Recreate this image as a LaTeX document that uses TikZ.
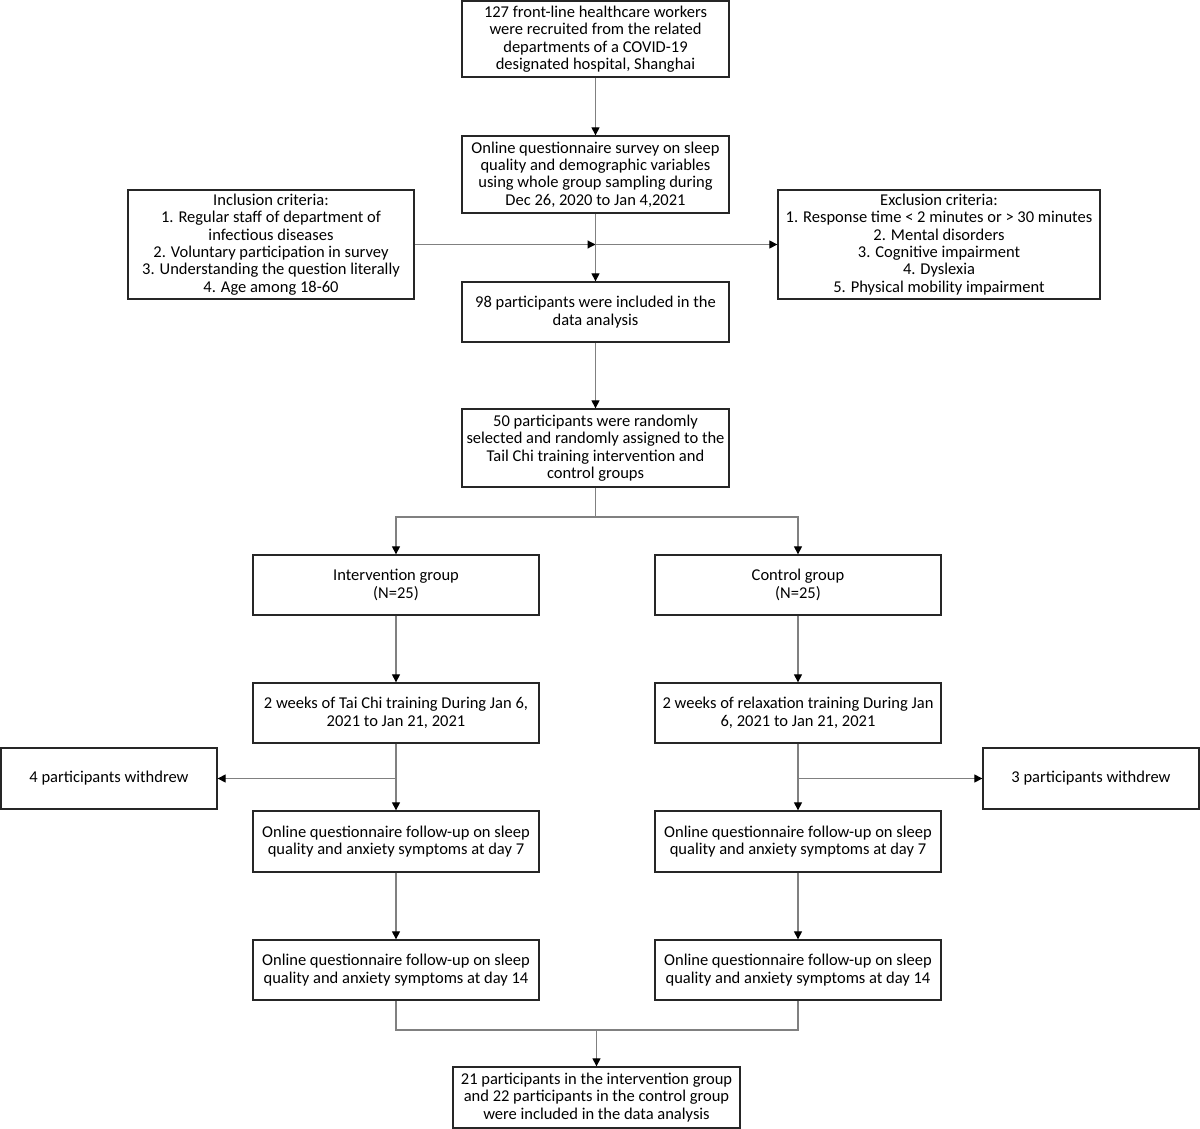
\documentclass[tikz,border=0pt]{standalone}
\usepackage{fontspec}
\setmainfont{Carlito}
\usetikzlibrary{arrows.meta}
\begin{document}
\begin{tikzpicture}[x=1pt,y=-1pt,
  box/.style={draw=black!85,line width=1.3pt,fill=white,align=center,inner sep=0pt,
    font=\fontsize{16.5pt}{17.4pt}\selectfont},
  conn/.style={draw=black!50,line width=1.1pt},
  arr/.style={conn,-{Triangle[black,length=8pt,width=8pt]}}]
\useasboundingbox (0,0) rectangle (1200,1129);
\node[box,minimum width=267pt,minimum height=76pt] (b1) at (595.5,39) {127 front-line healthcare workers\\were recruited from the related\\departments of a COVID-19\\designated hospital, Shanghai};
\node[box,minimum width=267pt,minimum height=77pt] (b2) at (595.5,174.5) {Online questionnaire survey on sleep\\quality and demographic variables\\using whole group sampling during\\Dec 26, 2020 to Jan 4,2021};
\node[box,minimum width=286pt,minimum height=109pt] (inc) at (271,244.5) {Inclusion criteria:\\1. Regular staff of department of\\infectious diseases\\2. Voluntary participation in survey\\3. Understanding the question literally\\4. Age among 18-60};
\node[box,minimum width=322pt,minimum height=109pt] (exc) at (939,244.5) {Exclusion criteria:\\1. Response time < 2 minutes or > 30 minutes\\2. Mental disorders\\3. Cognitive impairment\\4. Dyslexia\\5. Physical mobility impairment};
\node[box,minimum width=267pt,minimum height=60pt] (b3) at (595.5,312) {98 participants were included in the\\data analysis};
\node[box,minimum width=267pt,minimum height=78pt] (b4) at (595.5,448) {50 participants were randomly\\selected and randomly assigned to the\\Tail Chi training intervention and\\control groups};
\node[box,minimum width=286pt,minimum height=60pt] (ig) at (396,585) {Intervention group\\(N=25)};
\node[box,minimum width=286pt,minimum height=60pt] (cg) at (798,585) {Control group\\(N=25)};
\node[box,minimum width=286pt,minimum height=60pt] (tc) at (396,713) {2 weeks of Tai Chi training During Jan 6,\\2021 to Jan 21, 2021};
\node[box,minimum width=286pt,minimum height=60pt] (rl) at (798,713) {2 weeks of relaxation training During Jan\\6, 2021 to Jan 21, 2021};
\node[box,minimum width=216pt,minimum height=61pt] (w4) at (109,778.5) {4 participants withdrew};
\node[box,minimum width=216pt,minimum height=61pt] (w3) at (1091,778.5) {3 participants withdrew};
\node[box,minimum width=286pt,minimum height=61pt] (d7l) at (396,841.5) {Online questionnaire follow-up on sleep\\quality and anxiety symptoms at day 7};
\node[box,minimum width=286pt,minimum height=61pt] (d7r) at (798,841.5) {Online questionnaire follow-up on sleep\\quality and anxiety symptoms at day 7};
\node[box,minimum width=286pt,minimum height=60pt] (d14l) at (396,970) {Online questionnaire follow-up on sleep\\quality and anxiety symptoms at day 14};
\node[box,minimum width=286pt,minimum height=60pt] (d14r) at (798,970) {Online questionnaire follow-up on sleep\\quality and anxiety symptoms at day 14};
\node[box,minimum width=287pt,minimum height=61pt] (fin) at (596.5,1097.5) {21 participants in the intervention group\\and 22 participants in the control group\\were included in the data analysis};
\coordinate (j1) at (595.5,244.5);
\coordinate (s1) at (595.5,517);
\coordinate (wl) at (396,778.5);
\coordinate (wr) at (798,778.5);
\coordinate (m) at (596.5,1030);
\draw[arr] (b1) -- (b2);
\draw[arr] (b2) -- (b3);
\draw[arr] (inc.east) -- (j1);
\draw[arr] (j1) -- (exc.west);
\draw[arr] (b3) -- (b4);
\draw[conn] (b4.south) -- (s1);
\draw[arr] (s1) -| (ig.north);
\draw[arr] (s1) -| (cg.north);
\draw[arr] (ig) -- (tc);
\draw[arr] (cg) -- (rl);
\draw[arr] (tc) -- (d7l);
\draw[arr] (rl) -- (d7r);
\draw[arr] (wl) -- (w4.east);
\draw[arr] (wr) -- (w3.west);
\draw[arr] (d7l) -- (d14l);
\draw[arr] (d7r) -- (d14r);
\draw[conn] (d14l.south) |- (m);
\draw[conn] (d14r.south) |- (m);
\draw[arr] (m) -- (fin.north);
\end{tikzpicture}
\end{document}
